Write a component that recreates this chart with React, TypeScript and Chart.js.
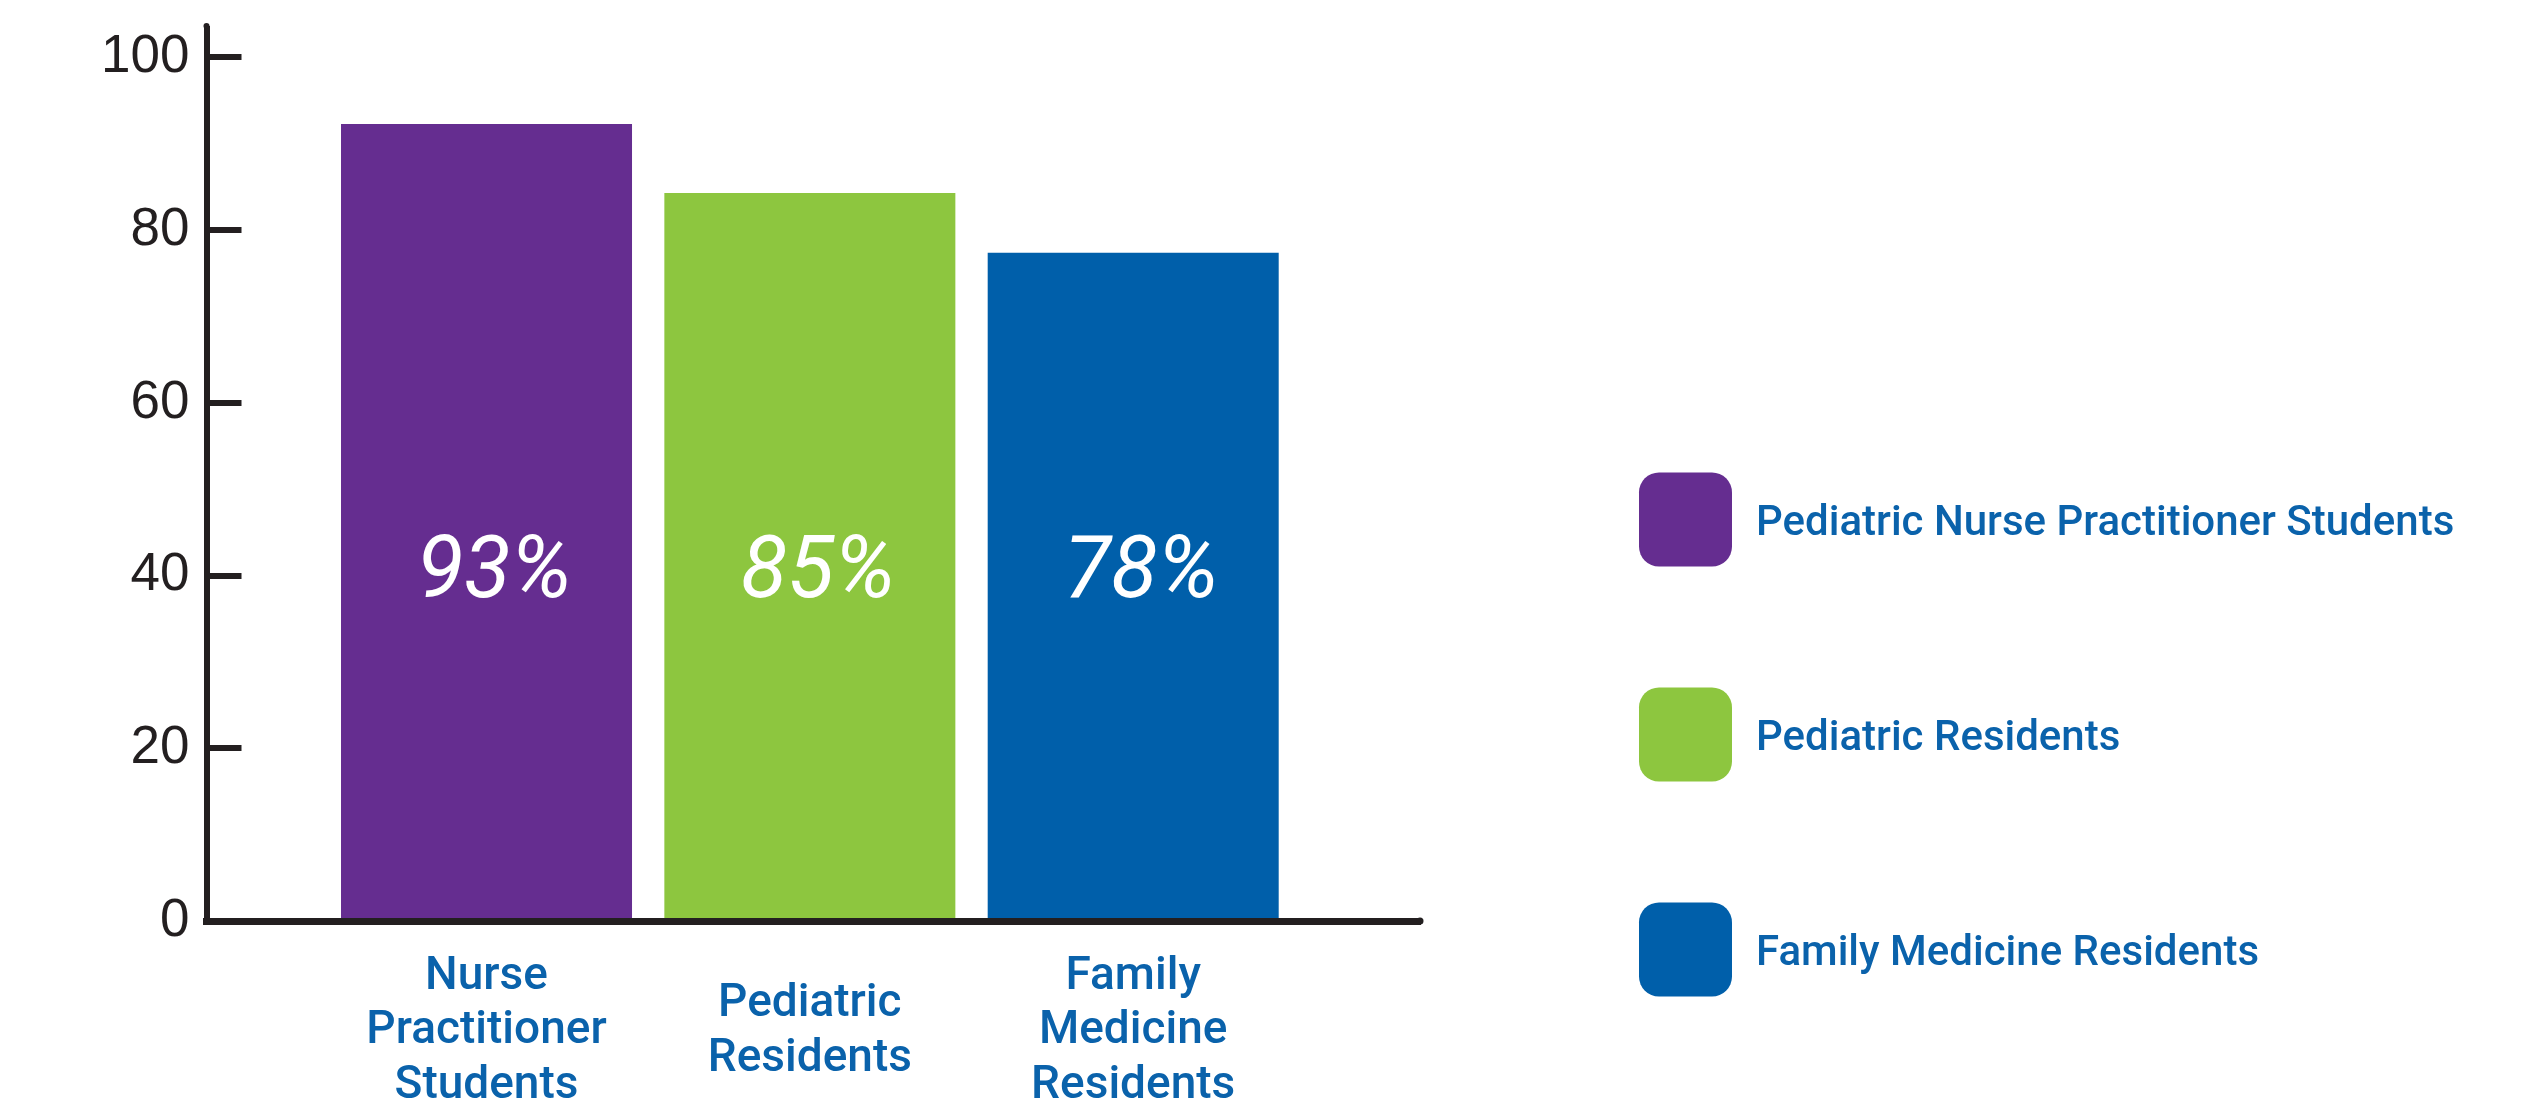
import React, { useEffect, useRef } from "react";
import { Chart, registerables } from "chart.js";

Chart.register(...registerables);

// ---- data ----
const categoryLines: string[][] = [
  ["Nurse", "Practitioner", "Students"],
  ["Pediatric", "Residents"],
  ["Family", "Medicine", "Residents"],
];
const seriesNames: string[] = [
  "Pediatric Nurse Practitioner Students",
  "Pediatric Residents",
  "Family Medicine Residents",
];
const barValues: number[] = [92.3, 84.3, 77.4];
const percentLabels: string[] = ["93%", "85%", "78%"];
const barColors: string[] = ["#652D90", "#8DC63F", "#005FAA"];
const yTickValues: number[] = [0, 20, 40, 60, 80, 100];
const labelLevel = 40;

const AXIS_COLOR = "#231F20";
const TEXT_BLUE = "#0A62AB";

const percentPlugin = {
  id: "percentLabels",
  afterDatasetsDraw(chart: any) {
    const { ctx } = chart;
    const y = chart.scales.y.getPixelForValue(labelLevel);
    ctx.save();
    ctx.font = "italic 400 86px Roboto";
    ctx.fillStyle = "#ffffff";
    ctx.textAlign = "center";
    ctx.textBaseline = "middle";
    chart.data.datasets.forEach((_ds: any, i: number) => {
      const el = chart.getDatasetMeta(i).data[0];
      if (el) ctx.fillText(percentLabels[i], el.x + 8, y);
    });
    ctx.restore();
  },
};

const legendPlugin = {
  id: "sideLegend",
  afterDraw(chart: any) {
    const { ctx, chartArea } = chart;
    const boxX = chartArea.right + 219;
    const boxW = 93;
    const boxH = 94;
    const firstTop = chartArea.top + 443.5;
    const step = 215;
    ctx.save();
    chart.data.datasets.forEach((ds: any, i: number) => {
      const top = firstTop + i * step;
      ctx.fillStyle = ds.backgroundColor;
      ctx.beginPath();
      if (ctx.roundRect) ctx.roundRect(boxX, top, boxW, boxH, 20);
      else ctx.rect(boxX, top, boxW, boxH);
      ctx.fill();
      ctx.font = "500 42px Roboto";
      ctx.fillStyle = TEXT_BLUE;
      ctx.textAlign = "left";
      ctx.textBaseline = "middle";
      ctx.fillText(ds.label, boxX + boxW + 24, top + boxH / 2 + 5);
    });
    ctx.restore();
  },
};

// rounded ends for the two axis lines
const axisCapsPlugin = {
  id: "axisCaps",
  afterDatasetsDraw(chart: any) {
    const { ctx, chartArea } = chart;
    ctx.save();
    ctx.fillStyle = AXIS_COLOR;
    ctx.beginPath();
    ctx.arc(chartArea.left, chartArea.top - 3, 3, 0, Math.PI * 2);
    ctx.fill();
    ctx.beginPath();
    ctx.arc(chartArea.right, chartArea.bottom, 3.5, 0, Math.PI * 2);
    ctx.fill();
    ctx.restore();
  },
};

export default function App() {
  const canvasRef = useRef<HTMLCanvasElement | null>(null);

  useEffect(() => {
    if (!canvasRef.current) return;
    const chart = new Chart(canvasRef.current, {
      type: "bar",
      data: {
        datasets: barValues.map((v, i) => ({
          label: seriesNames[i],
          data: [{ x: i, y: v }],
          backgroundColor: barColors[i],
          borderWidth: 0,
          grouped: false,
          categoryPercentage: 0.9,
          barPercentage: 1,
        })),
      },
      options: {
        animation: false,
        responsive: true,
        maintainAspectRatio: false,
        layout: { padding: { top: 29, right: 1116, bottom: 0, left: 0 } },
        plugins: {
          legend: { display: false },
          tooltip: { enabled: false },
          title: { display: false },
        },
        scales: {
          x: {
            type: "linear",
            min: -0.866,
            max: 2.887,
            offset: false,
            bounds: "data",
            z: 1,
            afterFit: (s: any) => {
              s.height = 185;
              s.paddingLeft = 0;
              s.paddingRight = 0;
              s.paddingTop = 0;
              s.paddingBottom = 0;
            },
            afterBuildTicks: (s: any) => {
              s.ticks = categoryLines.map((_c, i) => ({ value: i }));
            },
            grid: { display: false, drawTicks: false, offset: false },
            border: { display: true, color: AXIS_COLOR, width: 7 },
            ticks: {
              autoSkip: false,
              maxRotation: 0,
              minRotation: 0,
              padding: 56,
              crossAlign: "center",
              color: TEXT_BLUE,
              font: { family: "Roboto", size: 46, weight: "500", lineHeight: 1.19 },
              callback: (value: any) => categoryLines[value] ?? "",
            },
          },
          y: {
            type: "linear",
            min: 0,
            max: 103.3,
            z: 1,
            afterFit: (s: any) => {
              s.width = 206.5;
              s.paddingTop = 0;
              s.paddingBottom = 0;
              s.paddingLeft = 0;
              s.paddingRight = 0;
            },
            afterBuildTicks: (s: any) => {
              s.ticks = yTickValues.map((v) => ({ value: v }));
            },
            grid: {
              display: true,
              drawOnChartArea: false,
              drawTicks: true,
              tickLength: -35,
              tickWidth: 6,
              lineWidth: 6,
              tickColor: AXIS_COLOR,
              color: AXIS_COLOR,
            },
            border: { display: true, color: AXIS_COLOR, width: 6 },
            ticks: {
              padding: 52,
              color: AXIS_COLOR,
              font: { family: "'Liberation Sans Narrow', 'Liberation Sans', sans-serif", size: 53, weight: "400" },
              callback: (value: any) => String(value),
            },
          },
        },
      },
      plugins: [percentPlugin, legendPlugin, axisCapsPlugin],
    } as any);
    return () => chart.destroy();
  }, []);

  return (
    <div
      style={{
        position: "absolute",
        left: 0,
        top: 0,
        width: 2536,
        height: 1106,
        background: "#ffffff",
      }}
    >
      <canvas ref={canvasRef} />
    </div>
  );
}
